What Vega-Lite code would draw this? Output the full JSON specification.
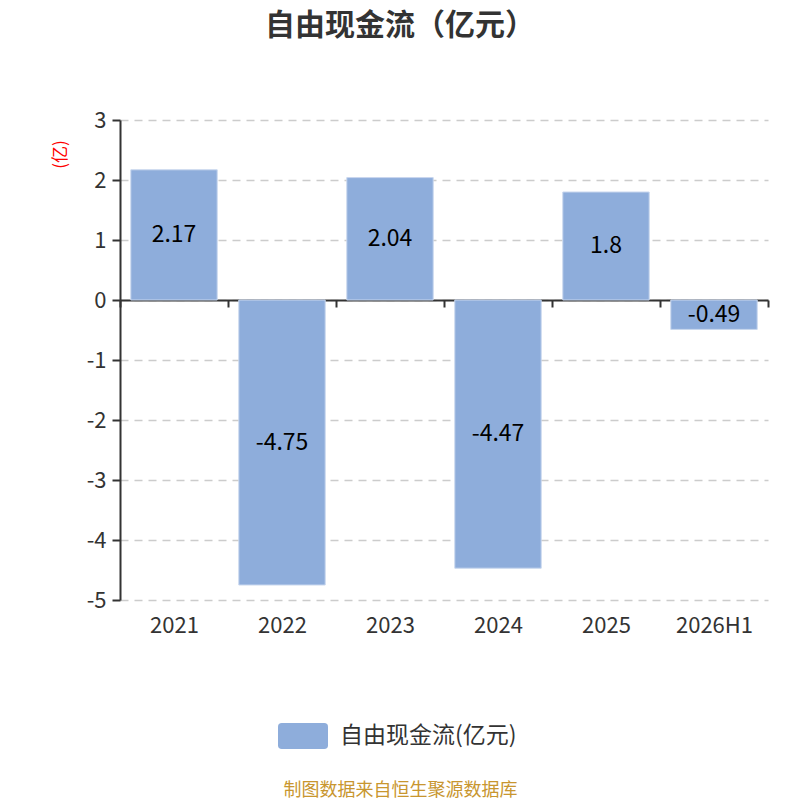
{
  "$schema": "https://vega.github.io/schema/vega-lite/v6.json",
  "autosize": "none",
  "width": 648,
  "height": 480,
  "padding": {"left": 120, "top": 120, "right": 32, "bottom": 200},
  "background": "white",
  "config": {
    "font": "Noto Sans CJK SC",
    "view": {"stroke": null}
  },
  "title": {
    "text": "自由现金流（亿元）",
    "fontSize": 30,
    "fontWeight": "bold",
    "color": "#333333",
    "anchor": "middle",
    "dx": -44,
    "offset": 68
  },
  "data": {
    "values": [
      {"year": "2021", "value": 2.17},
      {"year": "2022", "value": -4.75},
      {"year": "2023", "value": 2.04},
      {"year": "2024", "value": -4.47},
      {"year": "2025", "value": 1.8},
      {"year": "2026H1", "value": -0.49}
    ]
  },
  "encoding": {
    "x": {
      "field": "year",
      "type": "nominal",
      "sort": null,
      "scale": {"paddingInner": 0, "paddingOuter": 0},
      "axis": {
        "orient": "bottom",
        "offset": -300,
        "title": "制图数据来自恒生聚源数据库",
        "titleColor": "#c8962f",
        "titleFontSize": 18,
        "titleFontWeight": "normal",
        "titleX": 280,
        "titleY": 490,
        "titleBaseline": "middle",
        "labelAngle": 0,
        "labelFontSize": 22,
        "labelColor": "#333333",
        "labelPadding": 308,
        "tickBand": "extent",
        "tickSize": 7,
        "tickWidth": 2,
        "tickColor": "#333333",
        "domainColor": "#333333",
        "domainWidth": 2,
        "grid": false
      }
    }
  },
  "layer": [
    {
      "mark": {"type": "bar", "width": {"band": 0.8}, "stroke": "#c9d7ee", "strokeWidth": 1},
      "encoding": {
        "y": {
          "field": "value",
          "type": "quantitative",
          "scale": {"domain": [-5, 3], "nice": false, "zero": true},
          "axis": {
            "values": [-5, -4, -3, -2, -1, 0, 1, 2, 3],
            "labelExpr": "replace(format(datum.value, 'd'), '−', '-')",
            "title": "(亿)",
            "titleColor": "red",
            "titleFontSize": 17,
            "titleFontWeight": "normal",
            "titleAngle": -90,
            "titleX": -60,
            "titleY": 34,
            "titleAlign": "center",
            "titleBaseline": "middle",
            "labelFontSize": 22,
            "labelColor": "#333333",
            "labelPadding": 6,
            "tickSize": 8,
            "tickWidth": 2,
            "tickColor": "#333333",
            "domainColor": "#333333",
            "domainWidth": 2,
            "grid": true,
            "gridColor": "#cccccc",
            "gridDash": [8, 6],
            "gridWidth": 1.5
          }
        },
        "color": {
          "datum": "自由现金流(亿元)",
          "scale": {"range": ["#8eaddb"]},
          "legend": {
            "title": null,
            "orient": "none",
            "legendX": 158,
            "legendY": 591,
            "padding": 0,
            "symbolType": "M-0.85,-0.52L0.85,-0.52Q1,-0.52 1,-0.37L1,0.37Q1,0.52 0.85,0.52L-0.85,0.52Q-1,0.52 -1,0.37L-1,-0.37Q-1,-0.52 -0.85,-0.52Z",
            "symbolSize": 2500,
            "symbolStrokeWidth": 0,
            "symbolOpacity": 1,
            "labelFontSize": 23,
            "labelLimit": 400,
            "labelColor": "#333333",
            "labelOffset": 12
          }
        }
      }
    },
    {
      "transform": [{"calculate": "datum.value / 2", "as": "mid"}],
      "mark": {"type": "text", "fontSize": 23, "color": "#000000", "baseline": "middle"},
      "encoding": {
        "y": {"field": "mid", "type": "quantitative"},
        "text": {"field": "value", "type": "nominal"}
      }
    }
  ]
}
